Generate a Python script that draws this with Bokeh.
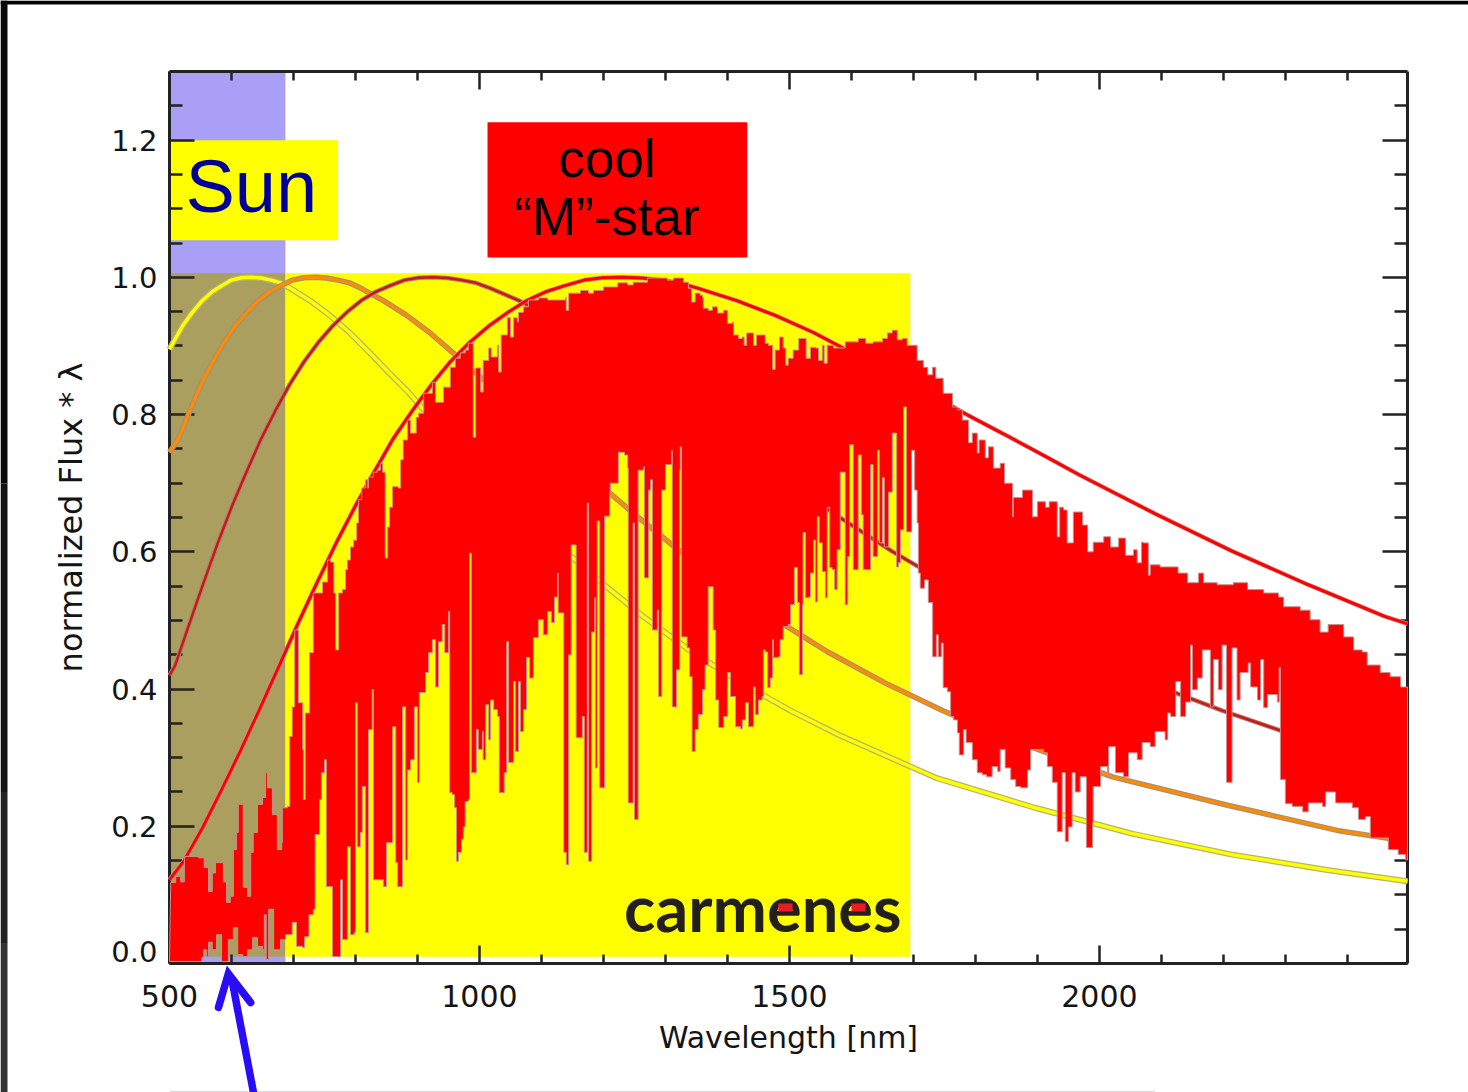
from bokeh.plotting import figure
from bokeh.models import LinearAxis, FixedTicker, Range1d, Label, PrintfTickFormatter
from bokeh.core.properties import value
from bokeh.embed import file_html
from bokeh.resources import INLINE

# ---------- values ----------
x_major = [500, 1000, 1500, 2000]
x_minor = [600, 700, 800, 900, 1100, 1200, 1300, 1400, 1600, 1700, 1800, 1900, 2100, 2200, 2300, 2400]
y_major = [0.0, 0.2, 0.4, 0.6, 0.8, 1.0, 1.2]
y_minor = [0.05, 0.1, 0.15, 0.25, 0.3, 0.35, 0.45, 0.5, 0.55, 0.65, 0.7, 0.75, 0.85, 0.9, 0.95, 1.05, 1.1, 1.15, 1.25]

sun_band_nm = [500, 687]
yellow_band_nm = [687, 1695]
band_flux = [0.010, 1.006]
sun_box_nm = [500, 772]
sun_box_flux = [1.054, 1.2]
star_box_nm = [1013, 1432]
star_box_flux = [1.029, 1.226]

bb1_nm = [500, 506, 521, 537, 553, 569, 585, 600, 616, 632, 648, 664, 679, 695, 727, 758, 790, 822, 853, 885, 916, 948, 980, 1011, 1074, 1138, 1201, 1264, 1343, 1422, 1501, 1580, 1738, 1896, 2054, 2212, 2370, 2497]
bb1_fx = [.895, .905, .929, .949, .966, .979, .988, .996, .9995, 1, .999, .996, .992, .984, .966, .945, .920, .891, .862, .833, .801, .772, .742, .712, .655, .601, .552, .506, .454, .409, .369, .333, .270, .227, .189, .159, .136, .120]
bb2_nm = [500, 515, 533, 551, 570, 588, 606, 625, 643, 662, 680, 698, 717, 735, 753, 772, 790, 809, 845, 882, 919, 956, 992, 1029, 1066, 1103, 1139, 1176, 1250, 1323, 1397, 1470, 1562, 1654, 1746, 1838, 2021, 2205, 2389, 2497]
bb2_fx = [.745, .765, .806, .844, .877, .905, .929, .949, .966, .979, .988, .996, .9995, 1, .999, .996, .992, .984, .966, .945, .920, .891, .862, .833, .801, .772, .742, .712, .655, .601, .552, .506, .454, .409, .369, .333, .272, .231, .193, .178]
bb3_nm = [500, 509, 532, 555, 578, 601, 624, 648, 671, 694, 717, 740, 763, 786, 809, 833, 856, 879, 902, 925, 948, 971, 994, 1018, 1064, 1110, 1156, 1203, 1249, 1295, 1341, 1388, 1434, 1480, 1573, 1665, 1758, 1850, 1966, 2081, 2197, 2313, 2497]
bb3_fx = [.42, .434, .495, .555, .613, .667, .716, .765, .806, .844, .877, .905, .929, .949, .966, .979, .988, .996, .9995, 1, .999, .996, .992, .984, .966, .945, .920, .891, .862, .833, .801, .772, .742, .712, .655, .601, .552, .506, .454, .409, .369, .333, .282]
bb4_nm = [500, 523, 554, 584, 615, 646, 677, 707, 738, 769, 800, 830, 861, 892, 923, 953, 984, 1015, 1046, 1076, 1107, 1138, 1169, 1199, 1230, 1261, 1292, 1322, 1353, 1415, 1476, 1538, 1599, 1661, 1722, 1784, 1845, 1907, 1968, 2091, 2214, 2337, 2460, 2497]
bb4_fx = [.122, .149, .199, .253, .311, .372, .434, .495, .555, .613, .667, .716, .765, .806, .844, .877, .905, .929, .949, .966, .979, .988, .996, .9995, 1, .999, .996, .992, .984, .966, .945, .920, .891, .862, .833, .801, .772, .742, .712, .655, .601, .552, .506, .495]

upper_nm = [502, 510, 518, 524, 532, 547, 556, 563, 569, 574, 579, 587, 592, 598, 603, 608, 611, 618, 619, 626, 631, 635, 642, 650, 655, 658, 666, 674, 681, 682, 690, 694, 698, 702, 706, 708, 715, 716, 719, 726, 732, 747, 755, 760, 765, 768, 773, 779, 784, 787, 792, 797, 802, 805, 810, 816, 819, 821, 829, 835, 840, 844, 848, 852, 855, 860, 869, 873, 877, 884, 889, 895, 898, 902, 910, 924, 929, 937, 942, 953, 961, 969, 977, 982, 989, 990, 994, 1002, 1006, 1015, 1019, 1029, 1031, 1035, 1045, 1050, 1055, 1061, 1063, 1071, 1079, 1095, 1110, 1126, 1139, 1140, 1144, 1163, 1176, 1184, 1200, 1223, 1239, 1248, 1271, 1303, 1313, 1329, 1337, 1342, 1348, 1356, 1360, 1361, 1369, 1376, 1384, 1394, 1400, 1408, 1410, 1418, 1424, 1427, 1431, 1440, 1442, 1447, 1456, 1461, 1466, 1473, 1477, 1484, 1490, 1494, 1498, 1506, 1515, 1521, 1527, 1534, 1542, 1547, 1553, 1556, 1561, 1571, 1579, 1590, 1603, 1611, 1623, 1635, 1650, 1658, 1666, 1674, 1682, 1690, 1700, 1706, 1716, 1723, 1731, 1736, 1747, 1748, 1763, 1771, 1779, 1789, 1795, 1803, 1806, 1816, 1821, 1829, 1840, 1847, 1857, 1860, 1861, 1876, 1886, 1892, 1900, 1913, 1919, 1932, 1936, 1942, 1948, 1958, 1973, 1981, 1990, 2007, 2018, 2031, 2042, 2055, 2061, 2068, 2071, 2079, 2082, 2098, 2127, 2142, 2160, 2168, 2190, 2207, 2216, 2239, 2265, 2289, 2297, 2324, 2340, 2356, 2369, 2394, 2410, 2424, 2432, 2453, 2469, 2486, 2497]
upper_fx = [.118, .127, .119, .156, .156, .154, .140, .105, .132, .147, .147, .119, .089, .098, .166, .191, .232, .232, .111, .098, .162, .191, .232, .242, .278, .256, .217, .166, .176, .227, .229, .331, .374, .486, .486, .380, .312, .239, .365, .453, .540, .556, .588, .585, .540, .457, .540, .545, .574, .588, .607, .617, .642, .676, .693, .705, .693, .709, .716, .719, .729, .716, .591, .636, .665, .695, .693, .734, .763, .792, .773, .773, .796, .802, .831, .847, .818, .818, .840, .869, .882, .890, .894, .904, .906, .767, .868, .833, .879, .897, .884, .901, .862, .916, .941, .913, .941, .935, .949, .957, .967, .970, .967, .967, .971, .952, .977, .981, .977, .981, .986, .992, .989, .993, .999, .996, .999, .993, .984, .964, .977, .974, .971, .955, .952, .957, .948, .952, .933, .935, .916, .911, .913, .901, .919, .919, .901, .916, .916, .904, .901, .866, .894, .913, .897, .872, .882, .894, .911, .911, .882, .898, .897, .879, .901, .875, .901, .897, .897, .906, .906, .911, .904, .906, .911, .919, .923, .909, .911, .901, .901, .879, .869, .858, .869, .853, .853, .831, .811, .807, .792, .759, .773, .744, .763, .737, .753, .722, .729, .700, .700, .651, .679, .690, .690, .651, .673, .665, .673, .622, .665, .661, .613, .658, .639, .600, .614, .622, .607, .620, .595, .603, .584, .614, .613, .566, .581, .578, .569, .555, .569, .555, .552, .552, .555, .545, .540, .534, .520, .515, .501, .483, .494, .476, .457, .454, .435, .424, .418, .403, .381]

lower_nm = [500, 550, 552, 555, 560, 563, 569, 576, 581, 584, 594, 595, 603, 610, 618, 626, 634, 642, 650, 653, 656, 660, 668, 679, 687, 698, 705, 715, 718, 725, 732, 735, 742, 745, 750, 753, 763, 773, 776, 779, 787, 792, 798, 800, 803, 808, 811, 816, 819, 821, 827, 829, 845, 850, 858, 860, 865, 868, 873, 876, 881, 884, 889, 895, 900, 903, 913, 918, 924, 929, 934, 940, 944, 950, 952, 956, 960, 963, 966, 971, 974, 977, 982, 984, 987, 994, 995, 998, 1005, 1006, 1010, 1015, 1018, 1023, 1029, 1032, 1039, 1040, 1044, 1047, 1053, 1055, 1058, 1063, 1066, 1071, 1076, 1081, 1087, 1095, 1103, 1110, 1116, 1121, 1126, 1127, 1134, 1136, 1140, 1144, 1148, 1153, 1156, 1163, 1166, 1169, 1173, 1174, 1176, 1181, 1186, 1187, 1190, 1194, 1200, 1202, 1210, 1211, 1224, 1234, 1239, 1240, 1247, 1248, 1250, 1255, 1256, 1265, 1266, 1271, 1273, 1276, 1279, 1285, 1287, 1289, 1292, 1294, 1300, 1310, 1311, 1316, 1318, 1321, 1323, 1324, 1326, 1335, 1339, 1343, 1348, 1353, 1360, 1364, 1369, 1377, 1381, 1386, 1394, 1400, 1405, 1413, 1421, 1424, 1429, 1434, 1442, 1445, 1450, 1456, 1458, 1461, 1465, 1469, 1473, 1474, 1482, 1485, 1490, 1498, 1502, 1508, 1513, 1516, 1521, 1522, 1526, 1531, 1534, 1539, 1542, 1545, 1548, 1553, 1558, 1561, 1565, 1569, 1573, 1577, 1582, 1587, 1590, 1594, 1597, 1603, 1608, 1611, 1616, 1619, 1631, 1635, 1642, 1645, 1650, 1653, 1660, 1666, 1673, 1676, 1679, 1684, 1689, 1695, 1697, 1702, 1706, 1708, 1711, 1718, 1724, 1731, 1737, 1740, 1745, 1748, 1755, 1760, 1765, 1771, 1774, 1781, 1785, 1795, 1803, 1811, 1818, 1827, 1836, 1840, 1848, 1857, 1865, 1873, 1884, 1889, 1910, 1916, 1924, 1932, 1940, 1945, 1950, 1956, 1961, 1969, 1979, 1989, 1990, 2002, 2013, 2015, 2026, 2039, 2047, 2061, 2069, 2082, 2090, 2106, 2110, 2115, 2123, 2131, 2139, 2147, 2150, 2158, 2166, 2179, 2184, 2192, 2198, 2205, 2211, 2214, 2222, 2227, 2240, 2244, 2255, 2260, 2265, 2271, 2287, 2290, 2292, 2300, 2311, 2328, 2337, 2360, 2365, 2381, 2408, 2418, 2429, 2437, 2450, 2466, 2482, 2494, 2497]
lower_fx = [.003, .003, .009, .020, .010, .031, .020, .042, .042, .003, .003, .035, .052, .013, .010, .020, .038, .025, .020, .071, .006, .079, .020, .035, .042, .060, .025, .023, .039, .071, .079, .188, .239, .278, .297, .112, .010, .010, .122, .035, .170, .042, .045, .380, .170, .191, .258, .045, .045, .341, .399, .122, .112, .176, .176, .345, .147, .112, .112, .374, .151, .282, .297, .374, .264, .395, .424, .453, .472, .403, .469, .494, .453, .513, .249, .246, .227, .149, .162, .181, .199, .236, .239, .598, .278, .278, .341, .312, .338, .297, .377, .326, .384, .370, .360, .249, .249, .278, .469, .293, .293, .411, .309, .411, .338, .370, .446, .416, .475, .501, .479, .513, .497, .534, .569, .511, .511, .162, .144, .450, .610, .610, .329, .329, .360, .162, .162, .671, .149, .483, .533, .285, .645, .256, .256, .652, .686, .700, .745, .741, .722, .234, .234, .642, .210, .210, .719, .724, .562, .562, .690, .705, .486, .486, .515, .389, .389, .690, .727, .748, .374, .374, .428, .428, .719, .753, .476, .460, .418, .309, .341, .363, .399, .435, .549, .486, .384, .344, .360, .424, .389, .345, .342, .355, .380, .345, .403, .363, .384, .389, .457, .454, .402, .416, .472, .446, .447, .472, .491, .494, .523, .577, .526, .421, .523, .628, .533, .534, .569, .617, .527, .651, .613, .571, .533, .665, .577, .574, .545, .603, .716, .716, .523, .593, .756, .574, .574, .741, .654, .574, .727, .593, .748, .613, .708, .607, .687, .773, .578, .584, .632, .811, .629, .629, .748, .690, .642, .569, .547, .559, .526, .447, .479, .447, .467, .402, .396, .360, .355, .336, .304, .341, .322, .297, .278, .275, .272, .287, .280, .312, .285, .268, .258, .256, .282, .312, .307, .287, .264, .192, .278, .178, .199, .278, .250, .272, .169, .205, .258, .287, .272, .316, .278, .272, .307, .297, .322, .316, .338, .326, .365, .360, .411, .360, .381, .464, .399, .416, .457, .374, .443, .399, .464, .264, .264, .460, .384, .424, .438, .403, .384, .443, .373, .392, .381, .431, .268, .233, .229, .221, .234, .229, .250, .234, .227, .210, .214, .183, .183, .166, .159, .151, .151]

X_MIN, X_MAX = 500, 2497
Y_MIN, Y_MAX = 0.0, 1.3
# the frame fills the canvas, so the plot box sits inside wider ranges
VIEW_X = (227.4, 2595.4)
VIEW_Y = (-0.1880, 1.4035)


def steps(xs, ys):
    ox, oy = [xs[0]], [ys[0]]
    for i in range(1, len(xs)):
        ox += [xs[i], xs[i]]
        oy += [ys[i - 1], ys[i]]
    return ox, oy


p = figure(width=1468, height=1092, output_backend="svg", toolbar_location=None,
           x_range=Range1d(*VIEW_X), y_range=Range1d(*VIEW_Y),
           x_axis_type=None, y_axis_type=None,
           min_border=0, background_fill_color="white", border_fill_color="white")
p.grid.visible = False
p.outline_line_color = None

FONT = "DejaVu Sans"
INK = "#141414"
ax_bottom = LinearAxis(fixed_location=Y_MIN, bounds=(X_MIN, X_MAX), axis_label="Wavelength [nm]")
ax_top = LinearAxis(fixed_location=Y_MAX, bounds=(X_MIN, X_MAX))
ax_left = LinearAxis(fixed_location=X_MIN, bounds=(Y_MIN, Y_MAX), axis_label="normalized Flux * \u03bb")
ax_right = LinearAxis(fixed_location=X_MAX, bounds=(Y_MIN, Y_MAX))
p.add_layout(ax_bottom, "below")
p.add_layout(ax_top, "above")
p.add_layout(ax_left, "left")
p.add_layout(ax_right, "right")

xt = FixedTicker(ticks=x_major, minor_ticks=x_minor)
yt = FixedTicker(ticks=y_major, minor_ticks=y_minor)
for ax, t, maj, mnr in ((ax_bottom, xt, 18, 9), (ax_top, xt, 18, 9), (ax_left, yt, 25, 13), (ax_right, yt, 25, 13)):
    ax.ticker = t
    ax.major_tick_in = maj
    ax.major_tick_out = 0
    ax.minor_tick_in = mnr
    ax.minor_tick_out = 0
    ax.axis_line_color = "#222222"
    ax.axis_line_width = 3
    ax.major_tick_line_color = "#222222"
    ax.minor_tick_line_color = "#222222"
    ax.major_tick_line_width = 2.5
    ax.minor_tick_line_width = 2.5
    ax.level = "underlay"
for ax in (ax_bottom, ax_left):
    ax.major_label_text_font = FONT
    ax.major_label_text_color = INK
    ax.axis_label_text_font = FONT
    ax.axis_label_text_font_style = "normal"
    ax.axis_label_text_color = INK
ax_bottom.major_label_text_font_size = "30px"
ax_left.major_label_text_font_size = "29px"
ax_bottom.axis_label_text_font_size = "30px"
ax_left.axis_label_text_font_size = "32px"
ax_bottom.major_label_standoff = 21
ax_bottom.axis_label_standoff = 10
ax_left.major_label_standoff = 12
ax_left.axis_label_standoff = 18
ax_left.formatter = PrintfTickFormatter(format="%.1f")
ax_left.major_label_overrides = {0: ""}
for ax in (ax_top, ax_right):
    ax.major_label_text_color = None
    ax.major_label_text_font_size = "1px"
    ax.major_label_standoff = 0

# bands behind everything
p.quad(left=sun_band_nm[0], right=sun_band_nm[1], bottom=0, top=1.3, fill_color="#a99ff7", line_color=None, level="image")
p.quad(left=sun_band_nm[0], right=sun_band_nm[1], bottom=band_flux[0], top=band_flux[1], fill_color="#aa9f5e", line_color=None, level="image")
p.quad(left=yellow_band_nm[0], right=yellow_band_nm[1], bottom=band_flux[0], top=band_flux[1], fill_color="#ffff00", line_color=None, level="image")
p.quad(left=sun_box_nm[0], right=sun_box_nm[1], bottom=sun_box_flux[0], top=sun_box_flux[1], fill_color="#ffff00", line_color=None, level="image")

# black-body curves
for xs, ys, edge, core, we, wc in ((bb1_nm, bb1_fx, "#b4b46c", "#ffff00", 6, 3.5),
                                   (bb2_nm, bb2_fx, "#a89070", "#ff8c00", 5.5, 3),
                                   (bb3_nm, bb3_fx, "#b08070", "#c81818", 4.5, 2.5),
                                   (bb4_nm, bb4_fx, "#c09090", "#ff0000", 4.5, 3)):
    p.line(xs, ys, line_color=edge, line_width=we)
    p.line(xs, ys, line_color=core, line_width=wc)

# spectrum
ux, uy = steps(upper_nm, upper_fx)
lx, ly = steps(lower_nm, lower_fx)
p.patch(ux + lx[::-1], uy + ly[::-1], fill_color="#ff0000", line_color="#c89090", line_width=1)

# boxes and texts on top
p.quad(left=star_box_nm[0], right=star_box_nm[1], bottom=star_box_flux[0], top=star_box_flux[1], fill_color="#ff0000", line_color=None)
p.text(x=[632], y=[1.133], text=["Sun"], text_font=value("Liberation Sans"), text_font_size="74px",
       text_color="#000099", text_align="center", text_baseline="middle")
p.text(x=[1206, 1206], y=[1.173, 1.088], text=["cool", "\u201cM\u201d-star"], text_font=value("Liberation Sans"),
       text_font_size="53px", text_color="black", text_align="center", text_baseline="middle")
p.text(x=[1457], y=[0.082], text=["carmenes"], text_font=value("Lato"), text_font_size="65px",
       text_font_style="bold", text_color="#231f20", text_align="center", text_baseline="middle")
for ax_, ay_ in (([1482, 1505, 1505, 1482], [.0758, .0758, .0875, .0875]),
                 ([1600, 1623, 1623, 1600], [.0758, .0758, .0875, .0875])):
    p.patch(ax_, ay_, fill_color="#ed1c24", line_color=None)

p.add_layout(Label(x=X_MIN, y=Y_MIN, x_offset=-12, y_offset=12, text="0.0", text_font=FONT, text_font_size="29px",
                   text_color=INK, text_align="right", text_baseline="middle"))

# slide edges and the arrow
p.quad(left=VIEW_X[0], right=VIEW_X[1], bottom=1.3975, top=VIEW_Y[1], fill_color="#050505", line_color=None)
for b_, t_, col in ((0.70, 1.4035, "#0a0a0a"), (0.25, 0.70, "#141414"), (0.03, 0.25, "#222222"), (-0.188, 0.03, "#333333")):
    p.quad(left=VIEW_X[0], right=238.7, bottom=b_, top=t_, fill_color=col, line_color=None)
p.quad(left=501, right=2090, bottom=VIEW_Y[0], top=-0.1855, fill_color="#dddddd", line_color=None)
p.line([635.5, 601], [-0.188, -0.025], line_color="#2a0cf5", line_width=7.5)
p.line([579, 595, 631], [-0.064, -0.0146, -0.057], line_color="#2a0cf5", line_width=7.5, line_cap="round", line_join="miter")

open("out.html", "w").write(file_html(p, INLINE))
